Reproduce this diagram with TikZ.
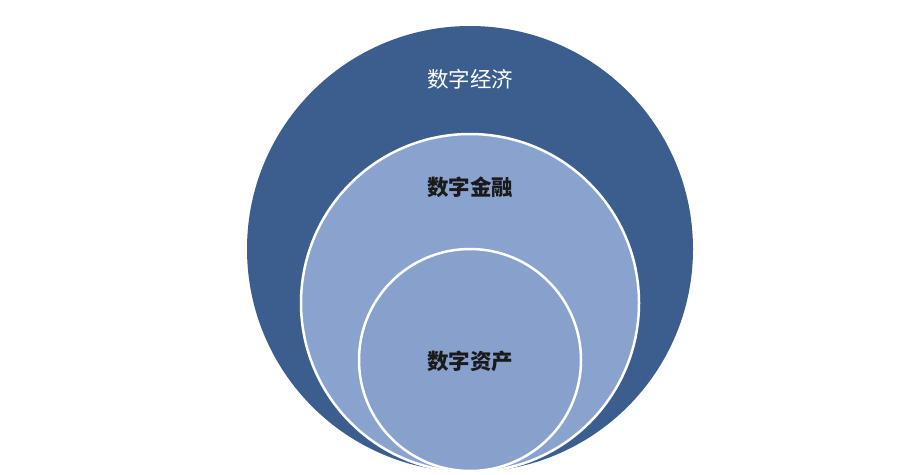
\documentclass[tikz,border=0pt]{standalone}
\usepackage{xcolor}
\usepackage{tikz}
\usepackage{fontspec}
\newfontfamily\cjk{Noto Sans CJK SC}
\definecolor{economyblue}{HTML}{3B5E8E}
\definecolor{financeblue}{HTML}{8AA3CE}
\definecolor{assetblue}{HTML}{88A1CC}
\definecolor{darktext}{HTML}{1A1A1A}

\begin{document}
\begin{tikzpicture}[x = 1pt, y = 1pt]
        \tikzstyle{every node} = [inner sep = 0pt, outer sep = 0pt, font = \cjk\fontsize{21.5}{25}\selectfont]
        \tikzstyle{ring} = [circle, draw = white, line width = 2.5pt]
        \useasboundingbox (0, 0) rectangle (912, -474);

        \node(Economy)[ring, draw = none, fill = economyblue, minimum size = 446pt] at (470, -249) {};
        \node(Finance)[ring, fill = financeblue, minimum size = 338pt] at (470, -303) {};
        \node(Asset)[ring, fill = assetblue, minimum size = 222pt] at (470, -360) {};

        \node(Economy label)[text = white] at (470, -79) {数字经济};
        \node(Finance label)[text = darktext, font = \cjk\bfseries\fontsize{21.5}{25}\selectfont] at (470, -187) {数字金融};
        \node(Asset label)[text = darktext, font = \cjk\bfseries\fontsize{21.5}{25}\selectfont] at (470, -361) {数字资产};

    \end{tikzpicture}
\end{document}
